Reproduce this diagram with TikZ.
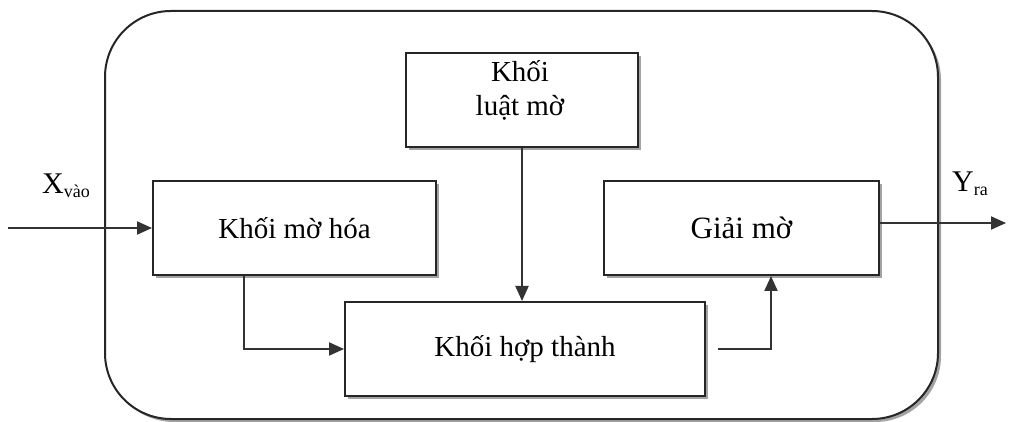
\documentclass[tikz,border=0pt]{standalone}
\usepackage{fontspec}
\setmainfont{Liberation Serif}
\usetikzlibrary{arrows.meta,shadows}
\begin{document}
\begin{tikzpicture}[x=1pt,y=-1pt,
  shad/.style={drop shadow={shadow xshift=3pt, shadow yshift=-3pt, fill=black!45, opacity=0.8}},
  blk/.style={rectangle, draw=black!85, line width=2pt, fill=white, inner sep=0pt, shad,
    font=\fontsize{29}{34}\selectfont},
  conn/.style={line width=2pt, draw=black!80, -{Triangle[length=15pt,width=13pt]}},
  lbl/.style={inner sep=0pt, font=\fontsize{30}{34}\selectfont}]
\useasboundingbox (0,0) rectangle (1010,422);
% outer frame
\filldraw[draw=black!85, fill=white, line width=2pt, rounded corners=66pt, shad] (105,11) rectangle (938,419);
% blocks
\node[blk, minimum width=283pt, minimum height=94pt] (mo) at (294.5,228) {Khối mờ hóa};
\node[blk, minimum width=232pt, minimum height=94pt] (luat) at (522,100) {};
\node[font=\fontsize{29}{34}\selectfont, align=center, inner sep=0pt] (luatt) at (520,90) {Khối\\luật mờ};
\node[blk, minimum width=360pt, minimum height=94pt] (hop) at (525,349) {Khối hợp thành};
\node[blk, minimum width=275pt, minimum height=94pt, font=\fontsize{31}{34}\selectfont] (giai) at (741.5,228) {Giải mờ};
% labels
\node[lbl, anchor=base west] (xl) at (42,194) {X\raisebox{-4pt}{\fontsize{18}{20}\selectfont vào}};
\node[lbl, anchor=base west] (yl) at (952,192) {Y\raisebox{-4pt}{\fontsize{18}{20}\selectfont ra}};
% connectors
\coordinate (xin) at (8,228);
\coordinate (yout) at (1006,223);
\draw[conn] (xin) -- (mo.west);
\draw[conn] ([xshift=-50.5pt]mo.south) |- (hop.west);
\draw[conn] (luat.south) -- (luat.south |- hop.north);
\draw[conn] ([xshift=12pt]hop.east) -| ([xshift=29.5pt]giai.south);
\draw[conn] ([yshift=5pt]giai.east) -- (yout);
\end{tikzpicture}
\end{document}
